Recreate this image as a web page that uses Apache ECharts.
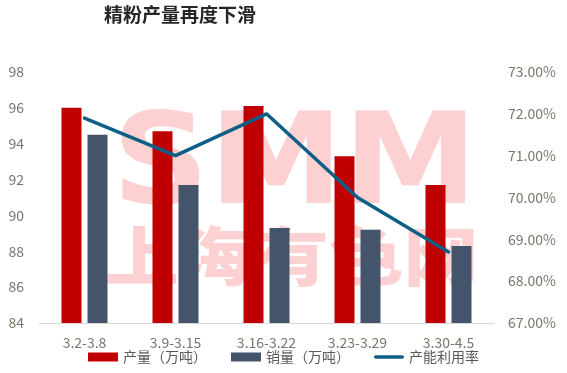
<!DOCTYPE html>
<html><head><meta charset="utf-8">
<script src="https://cdn.jsdelivr.net/npm/echarts@6/dist/echarts.min.js"></script>
<style>
html,body{margin:0;padding:0;background:#fff;}
#wrap{position:relative;width:567px;height:373px;}
#c{position:absolute;left:0;top:0;width:567px;height:373px;}
.wm{position:absolute;color:#fdd0d1;white-space:nowrap;transform-origin:0 0;}
#wm1{left:112px;top:97px;font:bold 126px "DejaVu Sans",sans-serif;line-height:126px;transform:scaleX(1.07);}
#wm2{left:104px;top:212px;font:900 64px "Noto Sans CJK SC",sans-serif;line-height:80px;transform:scaleX(1.17);}
</style>
</head><body><div id="wrap"><div class="wm" id="wm1">SMM</div><div class="wm" id="wm2">上海有色网</div><div id="c"></div></div>
<script>
var categories = ['3.2-3.8', '3.9-3.15', '3.16-3.22', '3.23-3.29', '3.30-4.5'];
var production = [96.0, 94.7, 96.1, 93.3, 91.7];
var sales = [94.5, 91.7, 89.3, 89.2, 88.3];
var utilization = [71.9, 71.0, 72.0, 70.0, 68.7];
var leftTicks = [84, 86, 88, 90, 92, 94, 96, 98];
var rightTicks = [67, 68, 69, 70, 71, 72, 73];

var FONT = '"Noto Sans CJK SC", "Noto Sans", sans-serif';
var LABEL = '#77776a';
var chart = echarts.init(document.getElementById('c'));
chart.setOption({
  animation: false,
  backgroundColor: 'transparent',
  textStyle: { fontFamily: FONT },
  title: {
    text: '精粉产量再度下滑', left: 175, top: 0, textAlign: 'center',
    textStyle: { fontSize: 19, fontWeight: 'bold', color: '#262626', fontFamily: FONT }
  },
  legend: {
    bottom: 4, left: 'center', itemWidth: 30, itemHeight: 9, itemGap: 24,
    textStyle: { fontSize: 14, color: '#595959', fontFamily: FONT },
    data: [
      { name: '产量（万吨）', icon: 'rect' },
      { name: '销量（万吨）', icon: 'rect' },
      { name: '产能利用率', icon: 'path://M2,0 L31,0 A2,2 0 0 1 31,4 L2,4 A2,2 0 0 1 2,0 Z' }
    ]
  },
  grid: { left: 39, right: 73, top: 72, bottom: 50, outerBoundsMode: 'none' },
  xAxis: {
    type: 'category', data: categories,
    axisTick: { show: false },
    axisLine: { lineStyle: { color: '#d9d9d9', width: 1 } },
    axisLabel: { color: LABEL, fontSize: 14, margin: 13, fontFamily: FONT }
  },
  yAxis: [
    { type: 'value', min: leftTicks[0], max: leftTicks[leftTicks.length - 1], interval: 2,
      splitLine: { show: false }, axisLine: { show: false }, axisTick: { show: false },
      axisLabel: { color: LABEL, fontSize: 14, margin: 15, align: 'right', fontFamily: FONT } },
    { type: 'value', min: rightTicks[0], max: rightTicks[rightTicks.length - 1], interval: 1,
      splitLine: { show: false }, axisLine: { show: false }, axisTick: { show: false },
      axisLabel: { color: LABEL, fontSize: 14, margin: 14, fontFamily: FONT,
        formatter: function (v) { return v.toFixed(2) + '%'; } } }
  ],
  series: [
    { name: '产量（万吨）', type: 'bar', data: production, barWidth: 20, barGap: '30%',
      itemStyle: { color: '#c00000' } },
    { name: '销量（万吨）', type: 'bar', data: sales, barWidth: 20,
      itemStyle: { color: '#44546a' } },
    { name: '产能利用率', type: 'line', yAxisIndex: 1, data: utilization,
      symbol: 'none', lineStyle: { color: '#0e5f86', width: 3.5, cap: 'round' },
      itemStyle: { color: '#0e5f86' }, z: 5 }
  ]
});
</script></body></html>
